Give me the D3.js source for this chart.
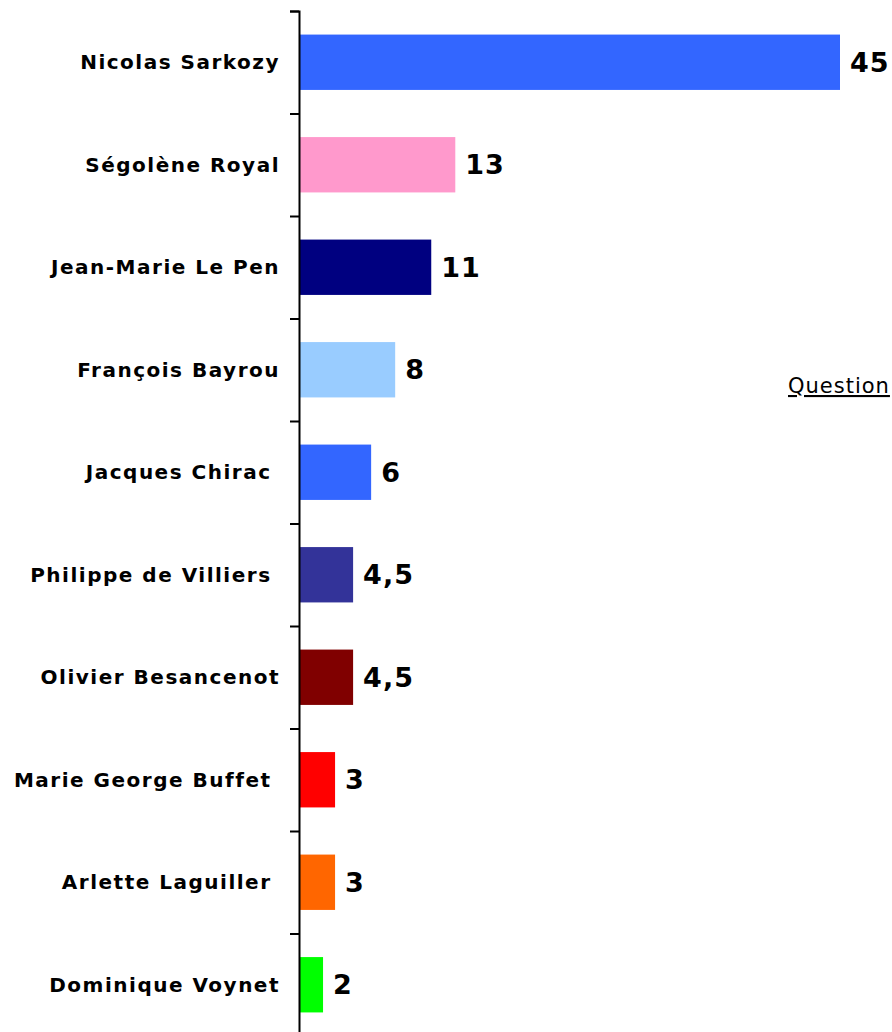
<!DOCTYPE html>
<html>
<head>
<meta charset="utf-8">
<script src="https://cdn.jsdelivr.net/npm/d3@7"></script>
<style>
  body { margin: 0; background: #fff; }
  svg text { white-space: pre; }
</style>
</head>
<body>
<svg id="chart"></svg>
<script>
// candidates, top to bottom
const candidates = ['Nicolas Sarkozy', 'Ségolène Royal', 'Jean-Marie Le Pen', 'François Bayrou',
  'Jacques Chirac ', 'Philippe de Villiers ', 'Olivier Besancenot', 'Marie George Buffet ',
  'Arlette Laguiller ', 'Dominique Voynet'];
const scores = [45, 13, 11, 8, 6, 4.5, 4.5, 3, 3, 2];
const scoreLabels = ['45', '13', '11', '8', '6', '4,5', '4,5', '3', '3', '2'];
const barColors = ['#3366ff', '#ff99cc', '#000080', '#99ccff', '#3366ff',
  '#333399', '#800000', '#ff0000', '#ff6600', '#00ff00'];

const width = 892, height = 1032;
const axisX = 299;
const font = 'DejaVu Sans, Verdana, sans-serif';

const svg = d3.select('#chart')
  .attr('width', width)
  .attr('height', height);

const data = candidates.map((c, i) => ({ name: c, value: scores[i], label: scoreLabels[i], color: barColors[i] }));

const y = d3.scaleBand()
  .domain(candidates)
  .range([11, 1036])
  .paddingInner(0.46)
  .paddingOuter(0.23);

// ticks sit between the categories
const yIdx = d3.scaleLinear()
  .domain([0, candidates.length])
  .range([11, 1036]);

const x = d3.scaleLinear()
  .domain([0, 45])
  .range([axisX, 840]);

svg.selectAll('.bar')
  .data(data)
  .enter()
  .append('rect')
  .attr('class', 'bar')
  .attr('x', x(0))
  .attr('y', d => y(d.name))
  .attr('width', d => x(d.value) - x(0))
  .attr('height', y.bandwidth())
  .attr('fill', d => d.color);

const axis = d3.axisLeft(yIdx)
  .ticks(candidates.length)
  .tickFormat('')
  .tickSize(9)
  .tickSizeOuter(9);

svg.append('g')
  .attr('class', 'axis y-axis')
  .attr('transform', `translate(${axisX},0)`)
  .call(axis)
  .call(g => g.selectAll('path, line').attr('stroke', '#000').attr('stroke-width', 2));

svg.selectAll('.cat')
  .data(data)
  .enter()
  .append('text')
  .attr('class', 'cat')
  .attr('x', 280)
  .attr('y', d => y(d.name) + y.bandwidth() / 2)
  .attr('dy', '0.36em')
  .attr('text-anchor', 'end')
  .attr('font-family', font)
  .attr('font-weight', 'bold')
  .attr('font-size', 20)
  .attr('letter-spacing', 1.5)
  .text(d => d.name);

svg.selectAll('.val')
  .data(data)
  .enter()
  .append('text')
  .attr('class', 'val')
  .attr('x', d => x(d.value) + 10)
  .attr('y', d => y(d.name) + y.bandwidth() / 2)
  .attr('dy', '0.36em')
  .attr('font-family', font)
  .attr('font-weight', 'bold')
  .attr('font-size', 27)
  .attr('letter-spacing', 1)
  .text(d => d.label);

svg.append('text')
  .attr('x', 788)
  .attr('y', 393)
  .attr('font-family', font)
  .attr('font-size', 21)
  .attr('letter-spacing', 1)
  .attr('text-decoration', 'underline')
  .text('Question');
</script>
</body>
</html>
